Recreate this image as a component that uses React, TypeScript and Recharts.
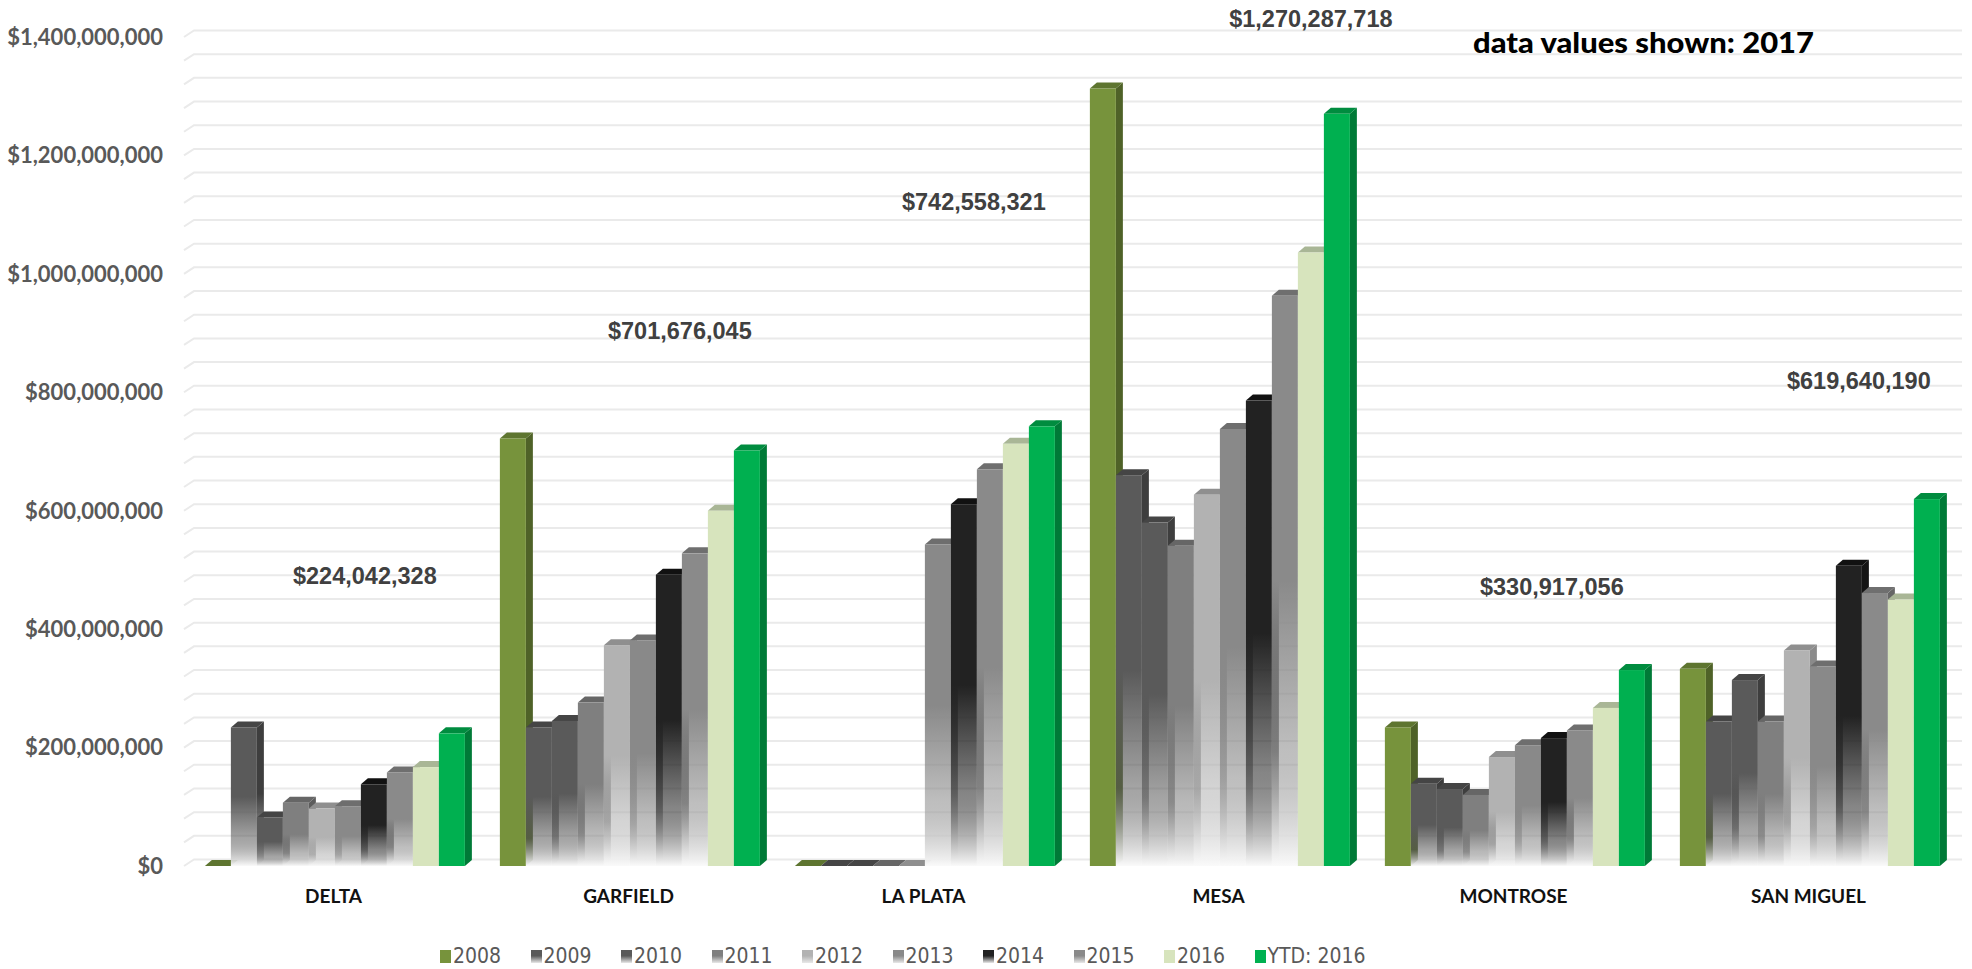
import React from 'react';
import { BarChart, Bar, XAxis, YAxis, CartesianGrid, LabelList } from 'recharts';

// counties on the x axis
const COUNTIES = ['DELTA', 'GARFIELD', 'LA PLATA', 'MESA', 'MONTROSE', 'SAN MIGUEL'];

// yearly values, millions of dollars
const v2008 = [0, 722, 0, 1313, 234, 333];
const v2009 = [234, 234, 0, 660, 139, 244];
const v2010 = [82, 245, 0, 580, 130, 314];
const v2011 = [107, 276, 0, 541, 120, 244];
const v2012 = [97, 373, 0, 627, 184, 364];
const v2013 = [101, 381, 543, 738, 204, 337];
const v2014 = [138, 492, 611, 786, 216, 507];
const v2015 = [158, 528, 670, 963, 229, 461];
const v2016 = [167, 600, 713, 1036, 267, 450];
// YTD values are printed on the chart, in dollars
const vYtd = [224042328, 701676045, 742558321, 1270287718, 330917056, 619640190];

const Y_TICKS = [0, 200000000, 400000000, 600000000, 800000000, 1000000000, 1200000000, 1400000000];
const GRID_STEP = 40000000;
const GRID_VALUES = Array.from({ length: 36 }, (_, i) => i * GRID_STEP);

// where the YTD labels sit (dollar level) and their shift from the YTD bar
const LABEL_LEVELS = [489e6, 903e6, 1121e6, 1430e6, 471e6, 819e6];
const LABEL_DX = [-87, -67, -68, -26, -80, -68];

const M = 1000000;

const SERIES = [
  { key: 'y2008', name: '2008', values: v2008, color: '#77933C', top: '#5E7530', side: '#4F6228', fade: false },
  { key: 'y2009', name: '2009', values: v2009, color: '#5A5A5A', top: '#454545', side: '#3E3E3E', fade: true },
  { key: 'y2010', name: '2010', values: v2010, color: '#5A5A5A', top: '#454545', side: '#3E3E3E', fade: true },
  { key: 'y2011', name: '2011', values: v2011, color: '#7F7F7F', top: '#666666', side: '#5C5C5C', fade: true },
  { key: 'y2012', name: '2012', values: v2012, color: '#B2B2B2', top: '#8F8F8F', side: '#8A8A8A', fade: true },
  { key: 'y2013', name: '2013', values: v2013, color: '#898989', top: '#6E6E6E', side: '#666666', fade: true },
  { key: 'y2014', name: '2014', values: v2014, color: '#222222', top: '#111111', side: '#151515', fade: true },
  { key: 'y2015', name: '2015', values: v2015, color: '#8A8A8A', top: '#6F6F6F', side: '#666666', fade: true },
  { key: 'y2016', name: '2016', values: v2016, color: '#D7E4BD', top: '#A9B696', side: '#A9B696', fade: false },
  { key: 'ytd', name: 'YTD: 2016', values: vYtd, color: '#00B050', top: '#008C3F', side: '#007A37', fade: false },
];

const data = COUNTIES.map((county, i) => {
  const row: Record<string, string | number> = { county };
  SERIES.forEach((s) => {
    row[s.key] = s.key === 'ytd' ? s.values[i] : s.values[i] * M;
  });
  return row;
});

const DX = 7;
const DY = 6;

const money = (v: number) => '$' + Math.round(v).toLocaleString('en-US');

function bar3d(s: (typeof SERIES)[number]) {
  return (p: any) => {
    const { x, y, width: w, height: h } = p;
    if (x == null || y == null) return <g />;
    const front = s.fade ? `url(#fade-${s.key})` : s.color;
    const side = s.fade ? `url(#fadeSide-${s.key})` : s.side;
    return (
      <g>
        {h > 0 && (
          <polygon
            points={`${x + w},${y} ${x + w + DX},${y - DY} ${x + w + DX},${y + h - DY} ${x + w},${y + h}`}
            fill={side}
          />
        )}
        <polygon points={`${x},${y} ${x + DX},${y - DY} ${x + w + DX},${y - DY} ${x + w},${y}`} fill={s.top} />
        {h > 0 && <rect x={x} y={y} width={w} height={h} fill={front} />}
      </g>
    );
  };
}

const gridLine = (p: any) => {
  const { x1, x2, y1 } = p;
  return (
    <path
      key={p.key}
      d={`M${x1 - 2},${y1} L${x1 + 8},${y1 - 6.5} L${x2 + 6},${y1 - 6.5}`}
      stroke="#EAEAEA"
      strokeWidth={2}
      fill="none"
    />
  );
};

const ytdLabel = (p: any) => {
  const { x, y, width, height, value } = p;
  const i = p.index ?? vYtd.indexOf(value);
  if (i < 0 || !value) return null;
  const perUnit = height / value;
  const cy = y + height - LABEL_LEVELS[i] * perUnit;
  const cx = x + width / 2 + LABEL_DX[i];
  return (
    <text
      x={cx}
      y={cy}
      textAnchor="middle"
      dominantBaseline="central"
      fontFamily="'Liberation Sans', Arial, sans-serif"
      fontWeight={700}
      fontSize={23.5}
      fill="#404040"
    >
      {money(value)}
    </text>
  );
};

export default function App() {
  return (
    <div style={{ position: 'absolute', left: 0, top: 0, width: 1972, height: 969, background: '#fff', overflow: 'hidden' }}>
      <BarChart
        width={1972}
        height={969}
        data={data}
        margin={{ top: 37, right: 16, bottom: 0, left: 0 }}
        barGap={0}
        barCategoryGap="6.4%"
      >
        <defs>
          {SERIES.filter((s) => s.fade).map((s) => (
            <React.Fragment key={s.key}>
              <linearGradient id={`fade-${s.key}`} x1="0" y1="0" x2="0" y2="1">
                <stop offset="0" stopColor={s.color} />
                <stop offset="0.5" stopColor={s.color} />
                <stop offset="0.8" stopColor={s.color} stopOpacity={0.55} />
                <stop offset="1" stopColor="#FAFAFA" />
              </linearGradient>
              <linearGradient id={`fadeSide-${s.key}`} x1="0" y1="0" x2="0" y2="1">
                <stop offset="0" stopColor={s.side} />
                <stop offset="0.5" stopColor={s.side} />
                <stop offset="0.8" stopColor={s.side} stopOpacity={0.55} />
                <stop offset="1" stopColor="#FAFAFA" />
              </linearGradient>
            </React.Fragment>
          ))}
        </defs>
        <CartesianGrid vertical={false} horizontal={gridLine} horizontalValues={GRID_VALUES} />
        <XAxis
          dataKey="county"
          height={103}
          interval={0}
          tickLine={false}
          axisLine={false}
          tickSize={0}
          tickMargin={24}
          tick={{ fill: '#111', fontFamily: 'Lato, sans-serif', fontWeight: 700, fontSize: 19 }}
        />
        <YAxis
          width={186}
          domain={[0, 1400000000]}
          ticks={Y_TICKS}
          interval={0}
          tickLine={false}
          axisLine={false}
          tickSize={0}
          tickMargin={23}
          tickFormatter={money}
          tick={{ fill: '#595959', fontFamily: 'Lato, sans-serif', fontWeight: 700, fontSize: 22 }}
        />
        {SERIES.map((s) => (
          <Bar key={s.key} dataKey={s.key} name={s.name} fill={s.color} shape={bar3d(s)} isAnimationActive={false}>
            {s.key === 'ytd' && <LabelList dataKey="ytd" content={ytdLabel} />}
          </Bar>
        ))}
      </BarChart>

      <svg width={420} height={70} style={{ position: 'absolute', left: 1460, top: 0 }}>
        <text
          x={13}
          y={53}
          textLength={341}
          lengthAdjust="spacingAndGlyphs"
          fontFamily="Lato, sans-serif"
          fontWeight={900}
          fontSize={28}
          fill="#000"
        >
          data values shown: 2017
        </text>
      </svg>

      <div
        style={{
          position: 'absolute',
          left: 440,
          top: 943,
          height: 26,
          display: 'flex',
          alignItems: 'center',
          fontFamily: "'Liberation Sans Narrow', 'DejaVu Sans Condensed', sans-serif",
          fontSize: 21,
          color: '#595959',
          whiteSpace: 'nowrap',
        }}
      >
        {SERIES.map((s, i) => (
          <div
            key={s.key}
            style={{
              width: i === SERIES.length - 1 ? 'auto' : 90.5,
              flexShrink: 0,
              display: 'flex',
              alignItems: 'center',
            }}
          >
            <span
              style={{
                display: 'inline-block',
                flexShrink: 0,
                width: 11,
                height: 13,
                marginRight: 2,
                background: s.fade ? `linear-gradient(${s.color} 45%, #e8e8e8)` : s.color,
              }}
            />
            {s.name}
          </div>
        ))}
      </div>
    </div>
  );
}
